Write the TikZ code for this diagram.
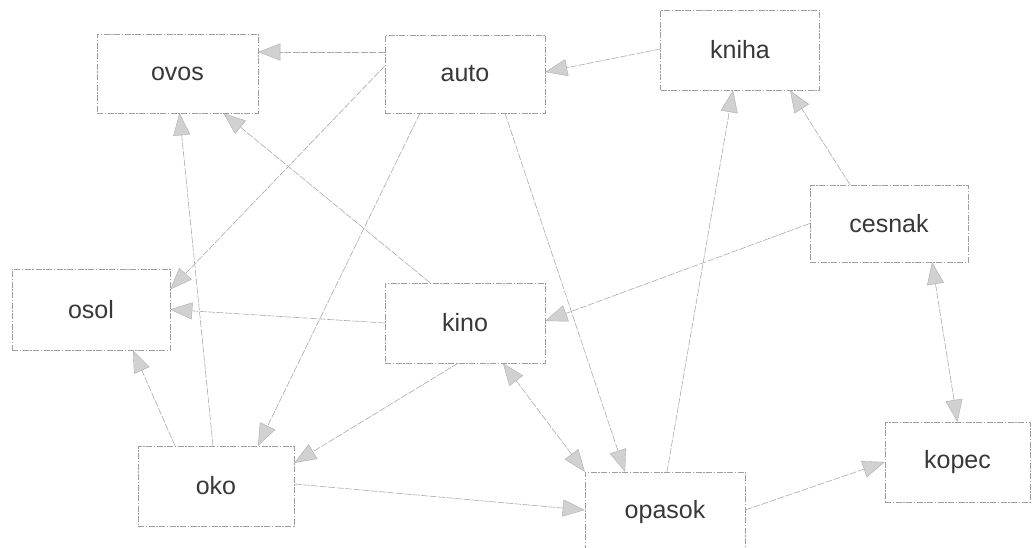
\documentclass[tikz,border=0pt]{standalone}
\usepackage{fontspec}
\setmainfont{Liberation Sans}
\usetikzlibrary{arrows.meta,calc}
\tikzset{
  gtri/.tip={Triangle[length=22pt,width=17pt,color=black!32,fill=black!18,line width=0.4pt]},
  box/.style={draw=black!38, line width=0.5pt, dash pattern=on 6pt off 1.5pt on 1.5pt off 1.5pt,
    inner sep=0pt, font=\fontsize{25}{30}\selectfont, text=black!78},
  link/.style={draw=black!33, line width=0.6pt, dash pattern=on 7pt off 1.5pt, -{gtri}},
  link2/.style={link, {gtri}-{gtri}}
}
\begin{document}
\begin{tikzpicture}[x=1pt,y=-1pt]
\useasboundingbox (0,0) rectangle (1033,547);
\node[box,minimum width=161pt,minimum height=79pt] (ovos) at (177.5,73.5) {ovos};
\node[box,minimum width=160pt,minimum height=78pt] (auto) at (465,74) {auto};
\node[box,minimum width=159pt,minimum height=80pt] (kniha) at (740,50) {kniha};
\node[box,minimum width=158pt,minimum height=77pt] (cesnak) at (889,223.5) {cesnak};
\node[box,minimum width=158pt,minimum height=81pt] (osol) at (91,309.5) {osol};
\node[box,minimum width=160pt,minimum height=80pt] (kino) at (465,323) {kino};
\node[box,minimum width=156pt,minimum height=80pt] (oko) at (216,486) {oko};
\node[box,minimum width=160pt,minimum height=80pt] (opasok) at (665,512) {opasok};
\node[box,minimum width=145pt,minimum height=80pt] (kopec) at (957.5,462) {kopec};

\draw[link] ($(auto.west)+(0,-22)$) -- ($(ovos.east)+(0,-21.5)$);
\draw[link] ($(kniha.west)+(0,-1)$) -- ($(auto.east)+(0,-2)$);
\draw[link] ($(cesnak.north)+(-39,0)$) -- ($(kniha.south)+(50,0)$);
\draw[link] ($(opasok.north)+(2,0)$) -- ($(kniha.south)+(-7,0)$);
\draw[link] ($(auto.south)+(40,0)$) -- ($(opasok.north)+(-40,0)$);
\draw[link] ($(auto.south)+(-45,0)$) -- ($(oko.north)+(42,0)$);
\draw[link] ($(auto.west)+(0,-8)$) -- ($(osol.east)+(0,-20)$);
\draw[link] ($(kino.north)+(-35,0)$) -- ($(ovos.south)+(46,0)$);
\draw[link] ($(oko.north)+(-3,0)$) -- ($(ovos.south)+(2,0)$);
\draw[link] (kino.west) -- (osol.east);
\draw[link] ($(oko.north)+(-41,0)$) -- ($(osol.south)+(42,0)$);
\draw[link] ($(kino.south)+(-7,0)$) -- ($(oko.east)+(0,-23)$);
\draw[link] (cesnak.west) -- ($(kino.east)+(0,-2)$);
\draw[link2] ($(kino.south)+(38,0)$) -- (opasok.north west);
\draw[link] ($(oko.east)+(0,-2)$) -- ($(opasok.west)+(0,-2)$);
\draw[link] ($(opasok.east)+(0,-2)$) -- (kopec.west);
\draw[link2] ($(cesnak.south)+(43,0)$) -- (kopec.north);
\end{tikzpicture}
\end{document}
